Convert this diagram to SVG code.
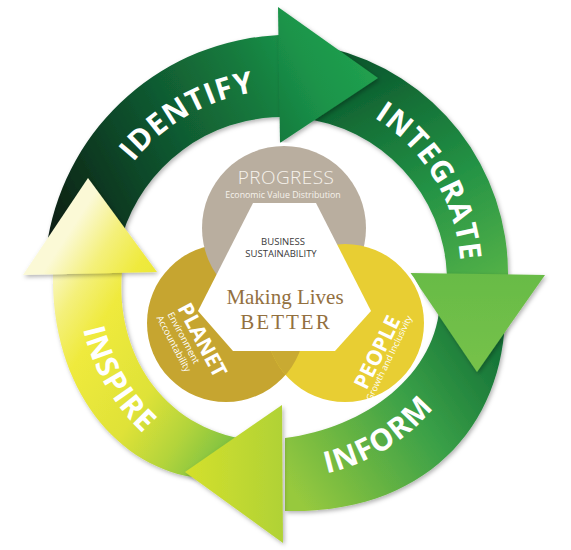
<svg xmlns="http://www.w3.org/2000/svg" width="571" height="550" viewBox="0 0 571 550">
<defs>
  <linearGradient id="gId" gradientUnits="userSpaceOnUse" x1="50" y1="230" x2="380" y2="60">
    <stop offset="0" stop-color="#081f12"/>
    <stop offset="0.3" stop-color="#0e4a2a"/>
    <stop offset="0.65" stop-color="#15793d"/>
    <stop offset="0.82" stop-color="#1b944a"/>
    <stop offset="1" stop-color="#22a24f"/>
  </linearGradient>
  <linearGradient id="gInt" gradientUnits="userSpaceOnUse" x1="370" y1="60" x2="490" y2="290">
    <stop offset="0" stop-color="#0b5a2e"/>
    <stop offset="0.55" stop-color="#249345"/>
    <stop offset="1" stop-color="#56b347"/>
  </linearGradient>
  <linearGradient id="gIntH" gradientUnits="userSpaceOnUse" x1="0" y1="273" x2="0" y2="372">
    <stop offset="0" stop-color="#68bb46"/>
    <stop offset="1" stop-color="#76c24a"/>
  </linearGradient>
  <linearGradient id="gInf" gradientUnits="userSpaceOnUse" x1="505" y1="330" x2="285" y2="480">
    <stop offset="0" stop-color="#0f6c35"/>
    <stop offset="0.45" stop-color="#3aa047"/>
    <stop offset="1" stop-color="#97c93e"/>
  </linearGradient>
  <linearGradient id="gInfH" gradientUnits="userSpaceOnUse" x1="283" y1="470" x2="185" y2="470">
    <stop offset="0" stop-color="#b0d236"/>
    <stop offset="1" stop-color="#d4e02b"/>
  </linearGradient>
  <linearGradient id="gIns" gradientUnits="userSpaceOnUse" x1="25" y1="300" x2="240" y2="440">
    <stop offset="0" stop-color="#fbf9d6"/>
    <stop offset="0.15" stop-color="#f4f07a"/>
    <stop offset="0.3" stop-color="#efea3c"/>
    <stop offset="0.6" stop-color="#dfe238"/>
    <stop offset="0.8" stop-color="#b3d43b"/>
    <stop offset="1" stop-color="#78c043"/>
  </linearGradient>
  <filter id="sh" x="-20%" y="-20%" width="140%" height="140%">
    <feDropShadow dx="1.5" dy="2" stdDeviation="2" flood-color="#000" flood-opacity="0.3"/>
  </filter>
  <clipPath id="cPeople"><circle cx="345" cy="323" r="79"/></clipPath>
  <path id="pIdentify" d="M 93.9 316.5 A 193 193 0 0 1 408.1 135.2"/>
  <path id="pIntegrate" d="M 239.5 92.4 A 186 186 0 0 1 419.5 392"/>
  <path id="pInform" d="M 162.6 435.6 A 195 195 0 0 0 475.1 244.1"/>
  <path id="pInspire" d="M 126.2 150.6 A 206 206 0 0 0 319.8 485.9"/>
</defs>
<style>
  .ring{font-family:"Open Sans","Liberation Sans",sans-serif;font-weight:700;font-size:30px;fill:#ffffff;letter-spacing:1px}
  .halo{fill:#ffffff;stroke:#ffffff;stroke-width:7}
  .big{font-family:"Open Sans","Liberation Sans",sans-serif;font-weight:700;fill:#ffffff}
  .small{font-family:"Open Sans","Liberation Sans",sans-serif;fill:#ffffff}
  .dark{font-family:"Open Sans","Liberation Sans",sans-serif;fill:#3a3a3a;font-size:9.5px}
  .serif{font-family:"Liberation Serif","Times New Roman",serif;fill:#93703f;font-size:21px}
</style>

<g id="connectors">
  <g id="bands" filter="url(#sh)">
    <path id="band-identify" d="M 48 238 A 246 246 0 0 1 279 35 L 282 35 L 282 117 A 168 168 0 0 0 122 236 Z" fill="url(#gId)"/>
    <path id="band-integrate" d="M 330 48 A 232 232 0 0 1 508 276 L 447 276 A 165 165 0 0 0 300 118 Z" fill="url(#gInt)"/>
    <path id="band-inform" d="M 505 300 C 510 420 430 515 285 511 L 285 438 C 365 428 438 375 440 300 Z" fill="url(#gInf)"/>
    <path id="band-inspire" d="M 200 478 C 120 470 50 390 53 271 L 122 271 C 115 350 160 428 250 440 Z" fill="url(#gIns)"/>
  </g>
  <g id="heads" filter="url(#sh)">
    <path id="head-identify" d="M 278 7 L 378 78 L 280 143 Z" fill="url(#gId)"/>
    <path id="head-integrate" d="M 410 273 L 545 275 L 477 372 Z" fill="url(#gIntH)"/>
    <path id="head-inform" d="M 282 405 L 283 543 L 185 472 Z" fill="url(#gInfH)"/>
    <path id="head-inspire" d="M 23 275 L 88 178 L 157 272 Z" fill="url(#gIns)"/>
  </g>
  <g id="ring-labels">
    <text class="ring"><textPath href="#pIdentify" startOffset="50%" text-anchor="middle">IDENTIFY</textPath></text>
    <text class="ring"><textPath href="#pIntegrate" startOffset="50%" text-anchor="middle">INTEGRATE</textPath></text>
    <text class="ring"><textPath href="#pInform" startOffset="50%" text-anchor="middle">INFORM</textPath></text>
    <text class="ring"><textPath href="#pInspire" startOffset="50%" text-anchor="middle">INSPIRE</textPath></text>
  </g>
</g>

<g id="halos">
  <circle class="halo" cx="226" cy="323" r="79"/>
  <circle class="halo" cx="284" cy="228" r="82"/>
  <circle class="halo" cx="345" cy="323" r="79"/>
</g>

<g id="node-planet">
  <circle cx="226" cy="323" r="79" fill="#c6a530"/>
  <g transform="translate(201.5,339) rotate(62)">
    <text class="big" x="-39" y="7" font-size="21">PLANET</text>
    <text class="small" x="-38" y="18.5" font-size="9.5">Environment</text>
    <text class="small" x="-40" y="30" font-size="9.5">Accountability</text>
  </g>
</g>

<g id="node-progress">
  <circle cx="284" cy="228" r="82" fill="#b9ae9f"/>
  <text x="286" y="184" text-anchor="middle" font-family="Open Sans, Liberation Sans, sans-serif" font-weight="300" font-size="19" fill="#f6f2ec" letter-spacing="0.4">PROGRESS</text>
  <text x="283" y="198" text-anchor="middle" font-family="Open Sans, Liberation Sans, sans-serif" font-size="8.8" fill="#f6f2ec">Economic Value Distribution</text>
</g>

<g id="node-people">
  <circle cx="345" cy="323" r="79" fill="#e8ce33"/>
  <circle cx="226" cy="323" r="79" fill="#c9aa32" clip-path="url(#cPeople)"/>
  <g transform="translate(377.5,352.5) rotate(-64)">
    <text class="big" x="0" y="7" font-size="21" text-anchor="middle">PEOPLE</text>
    <text class="small" x="0" y="16" font-size="9" text-anchor="middle">Growth and Inclusivity</text>
  </g>
</g>

<g id="node-center">
  <polygon points="253,203 316,203 371,311 335,351 233,351 198,311" fill="#ffffff"/>
  <text class="dark" x="283" y="245" text-anchor="middle">BUSINESS</text>
  <text class="dark" x="281" y="257" text-anchor="middle">SUSTAINABILITY</text>
  <text class="serif" x="285" y="304" text-anchor="middle">Making Lives</text>
  <text class="serif" x="286" y="329" text-anchor="middle" letter-spacing="2">BETTER</text>
</g>
</svg>
